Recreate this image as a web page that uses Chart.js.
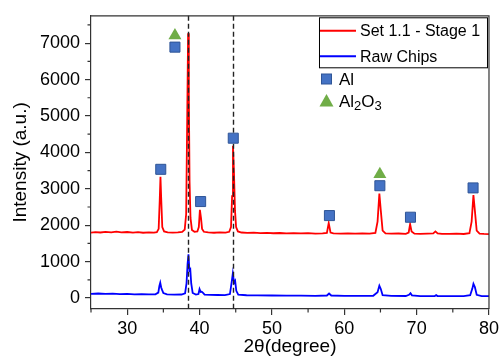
<!DOCTYPE html>
<html>
<head>
<meta charset="utf-8">
<script src="https://cdn.jsdelivr.net/npm/chart.js@4/dist/chart.umd.min.js"></script>
<style>
    html, body { margin: 0; padding: 0; background: #fff; }
</style>
</head>
<body>
<canvas id="xrd-chart" width="502" height="364"></canvas>
<script>
// Set 1.1 - Stage 1 (red)
const redTheta = [25.0, 25.6, 26.3, 27.0, 27.8, 28.5, 29.2, 30.0, 30.8, 31.5, 32.2, 33.0, 33.7, 34.1, 34.35, 34.5, 34.6, 34.7, 34.85, 35.1,
    35.6, 36.3, 37.0, 37.6, 37.95, 38.15, 38.3, 38.42, 38.52, 38.62, 38.75, 38.95, 39.3, 39.7, 39.9, 40.05, 40.2, 40.35, 40.6,
    41.2, 42.0, 42.8, 43.6, 44.1, 44.35, 44.5, 44.62, 44.75, 44.9, 45.05, 45.3, 45.8, 46.6, 47.5, 48.4, 49.3, 50.2, 51.1, 52.0,
    53.0, 54.0, 55.0, 56.0, 57.0, 57.6, 57.85, 58.1, 58.5, 59.5, 60.5, 61.5, 62.5, 63.5, 64.3, 64.6, 64.85, 65.05, 65.3, 65.7,
    66.5, 67.5, 68.5, 68.9, 69.1, 69.3, 69.7, 70.5, 71.5, 72.3, 72.6, 72.9, 73.5, 74.5, 75.5, 76.5, 77.3, 77.6, 77.85, 78.05,
    78.3, 78.7, 79.3, 80.0];
const redIntensity = [1795, 1812, 1800, 1818, 1804, 1822, 1806, 1814, 1798, 1808, 1794, 1804, 1796, 1812, 1900, 2700, 3330, 2750, 1950, 1830,
    1806, 1798, 1802, 1815, 1880, 2300, 5000, 7270, 5600, 3200, 2200, 1870, 1820, 1830, 1950, 2420, 2200, 1900, 1820,
    1802, 1794, 1806, 1798, 1820, 1950, 2800, 4180, 3500, 2400, 1950, 1830, 1800, 1790, 1796, 1784, 1792, 1780, 1786, 1776,
    1783, 1774, 1781, 1771, 1779, 1790, 2060, 1800, 1775, 1769, 1776, 1767, 1773, 1769, 1790, 2100, 2870, 2400, 1850, 1775,
    1767, 1773, 1764, 1800, 2030, 1830, 1770, 1764, 1769, 1775, 1830, 1775, 1764, 1761, 1768, 1759, 1780, 2100, 2830, 2400,
    1850, 1770, 1761, 1757];

// Raw Chips (blue)
const blueTheta = [25.0, 26.0, 27.0, 28.0, 29.0, 30.0, 31.0, 32.0, 33.0, 33.9, 34.3, 34.45, 34.57, 34.7, 34.82, 35.0, 35.5, 36.5, 37.5,
    38.0, 38.2, 38.35, 38.47, 38.6, 38.72, 38.85, 39.05, 39.5, 39.85, 40.0, 40.15, 40.3, 40.45, 40.7, 41.5, 42.5, 43.5,
    44.2, 44.45, 44.6, 44.78, 44.92, 45.08, 45.35, 46.5, 48.0, 50.0, 52.0, 54.0, 56.0, 57.6, 57.9, 58.2, 60.0, 62.0, 64.0,
    64.6, 64.85, 65.05, 65.3, 66.5, 68.5, 68.95, 69.15, 69.35, 70.5, 72.5, 72.7, 72.9, 75.0, 76.5, 77.4, 77.7, 77.85, 78.05,
    78.3, 79.0, 80.0];
const blueIntensity = [115, 126, 117, 123, 111, 116, 104, 109, 99, 102, 150, 330, 420, 290, 225, 140, 100, 94, 98,
    130, 400, 950, 1200, 760, 790, 400, 140, 95, 110, 245, 170, 175, 150, 96, 88, 84, 82,
    110, 450, 675, 420, 470, 200, 95, 78, 74, 70, 67, 66, 63, 70, 125, 70, 62, 59, 62,
    160, 340, 250, 80, 58, 57, 90, 135, 75, 56, 57, 80, 57, 55, 56, 80, 260, 390, 300,
    90, 55, 54];

// phase markers
const alTheta = [34.64, 36.6, 40.15, 44.66, 57.95, 64.92, 69.15, 77.8];
const alIntensity = [3535, 6890, 2650, 4390, 2265, 3085, 2220, 3025];
const al2o3Theta = [36.6, 64.92];
const al2o3Intensity = [7210, 3400];

// dashed reference lines
const refLines = [38.45, 44.65];

// axis ticks
const xTickValues = [30, 40, 50, 60, 70, 80];
const yTickValues = [0, 1000, 2000, 3000, 4000, 5000, 6000, 7000];

const FONT = 'Arial, "Liberation Sans", sans-serif';

function toPoints(xs, ys) {
    return xs.map((x, i) => ({ x: x, y: ys[i] }));
}

const refLinePlugin = {
    id: 'refLines',
    afterDatasetDraw(chart, args) {
        if (args.index !== 0) return;
        const { ctx, chartArea, scales } = chart;
        ctx.save();
        ctx.strokeStyle = '#222';
        ctx.lineWidth = 1.4;
        ctx.setLineDash([5, 3]);
        refLines.forEach(v => {
            const px = Math.round(scales.x.getPixelForValue(v)) + 0.5;
            ctx.beginPath();
            ctx.moveTo(px, chartArea.top);
            ctx.lineTo(px, chartArea.bottom);
            ctx.stroke();
        });
        ctx.restore();
    }
};

const framePlugin = {
    id: 'frame',
    afterDraw(chart) {
        const { ctx, chartArea, scales } = chart;
        const x = scales.x, y = scales.y;
        ctx.save();
        ctx.strokeStyle = '#333';
        ctx.lineWidth = 1.2;
        // top and right border
        ctx.beginPath();
        ctx.moveTo(chartArea.left, chartArea.top);
        ctx.lineTo(chartArea.right, chartArea.top);
        ctx.lineTo(chartArea.right, chartArea.bottom);
        ctx.stroke();
        // minor ticks
        ctx.beginPath();
        for (let v = 25; v <= 80; v += 10) {
            const px = x.getPixelForValue(v);
            ctx.moveTo(px, chartArea.bottom);
            ctx.lineTo(px, chartArea.bottom + 3.5);
        }
        for (let v = 500; v <= 7500; v += 1000) {
            const py = y.getPixelForValue(v);
            ctx.moveTo(chartArea.left, py);
            ctx.lineTo(chartArea.left - 3.5, py);
        }
        ctx.stroke();
        ctx.restore();
    }
};

const legendPlugin = {
    id: 'boxLegend',
    afterDraw(chart) {
        const { ctx, chartArea } = chart;
        const ds = chart.data.datasets;
        const bx = chartArea.right - 170, by = chartArea.top + 1.5;
        ctx.save();
        ctx.fillStyle = '#fff';
        ctx.fillRect(bx, by, 168, 50);
        ctx.strokeStyle = '#000';
        ctx.lineWidth = 1;
        ctx.strokeRect(bx + 0.5, by + 0.5, 168, 50);

        ctx.font = '16px ' + FONT;
        ctx.textBaseline = 'middle';
        ctx.fillStyle = '#000';
        [0, 1].forEach((i, k) => {
            const ly = by + 13.5 + k * 25.5;
            ctx.strokeStyle = ds[i].borderColor;
            ctx.lineWidth = 2;
            ctx.beginPath();
            ctx.moveTo(bx + 1, ly);
            ctx.lineTo(bx + 37, ly);
            ctx.stroke();
            ctx.fillText(ds[i].label, bx + 41, ly + 1);
        });

        // phase key
        const mx = bx + 7.5;
        ctx.fillStyle = '#4472C4';
        ctx.strokeStyle = '#2F5597';
        ctx.lineWidth = 1;
        ctx.fillRect(mx - 5, 74, 10, 10);
        ctx.strokeRect(mx - 5, 74, 10, 10);
        ctx.fillStyle = '#70AD47';
        ctx.beginPath();
        ctx.moveTo(mx, 94);
        ctx.lineTo(mx + 7, 106.5);
        ctx.lineTo(mx - 7, 106.5);
        ctx.closePath();
        ctx.fill();

        ctx.fillStyle = '#000';
        ctx.textBaseline = 'alphabetic';
        const tx = bx + 20;
        ctx.font = '17px ' + FONT;
        ctx.fillText('Al', tx, 85);
        let cx = tx;
        const parts = [['Al', false], ['2', true], ['O', false], ['3', true]];
        parts.forEach(([t, sub]) => {
            ctx.font = (sub ? '13px ' : '17px ') + FONT;
            ctx.fillText(t, cx, sub ? 110 : 106.5);
            cx += ctx.measureText(t).width;
        });
        ctx.restore();
    }
};

new Chart(document.getElementById('xrd-chart'), {
    type: 'scatter',
    data: {
        datasets: [
            {
                label: 'Set 1.1 - Stage 1',
                data: toPoints(redTheta, redIntensity),
                showLine: true,
                borderColor: '#FF0000',
                borderWidth: 1.8,
                pointRadius: 0,
                tension: 0,
                order: 2
            },
            {
                label: 'Raw Chips',
                data: toPoints(blueTheta, blueIntensity),
                showLine: true,
                borderColor: '#0000FF',
                borderWidth: 1.8,
                pointRadius: 0,
                tension: 0,
                order: 2
            },
            {
                label: 'Al',
                data: toPoints(alTheta, alIntensity),
                pointStyle: 'rect',
                pointRadius: 7.1,
                backgroundColor: '#4472C4',
                borderColor: '#2F5597',
                borderWidth: 1,
                order: 1
            },
            {
                label: 'Al2O3',
                data: toPoints(al2o3Theta, al2o3Intensity),
                pointStyle: 'triangle',
                pointRadius: 7.5,
                backgroundColor: '#70AD47',
                borderColor: '#70AD47',
                borderWidth: 0,
                order: 1
            }
        ]
    },
    options: {
        responsive: false,
        animation: false,
        layout: { padding: { top: 12, right: 10, left: 0, bottom: 0 } },
        plugins: {
            legend: { display: false },
            tooltip: { enabled: false }
        },
        scales: {
            x: {
                type: 'linear',
                min: 25,
                max: 80,
                afterFit: function (scale) { scale.height = 55; },
                afterBuildTicks: function (scale) {
                    scale.ticks = xTickValues.map(v => ({ value: v }));
                },
                ticks: {
                    maxRotation: 0,
                    autoSkip: false,
                    padding: 3,
                    color: '#000',
                    font: { family: FONT, size: 18 },
                    callback: v => String(v)
                },
                grid: { drawOnChartArea: false, tickLength: 6, color: '#333', lineWidth: 1.2 },
                border: { color: '#333', width: 1.2 },
                title: {
                    display: true,
                    text: '2θ(degree)',
                    color: '#000',
                    font: { family: FONT, size: 19 },
                    padding: { top: 0, bottom: 6 }
                }
            },
            y: {
                type: 'linear',
                min: -300,
                max: 7750,
                afterFit: function (scale) { scale.width = 91; },
                afterBuildTicks: function (scale) {
                    scale.ticks = yTickValues.map(v => ({ value: v }));
                },
                ticks: {
                    autoSkip: false,
                    padding: 5,
                    color: '#000',
                    font: { family: FONT, size: 18 },
                    callback: v => String(v)
                },
                grid: { drawOnChartArea: false, tickLength: 6, color: '#333', lineWidth: 1.2 },
                border: { color: '#333', width: 1.2 },
                title: {
                    display: true,
                    text: 'Intensity (a.u.)',
                    color: '#000',
                    font: { family: FONT, size: 19 },
                    padding: { top: 9, bottom: 0 }
                }
            }
        }
    },
    plugins: [refLinePlugin, framePlugin, legendPlugin]
});
</script>
</body>
</html>
